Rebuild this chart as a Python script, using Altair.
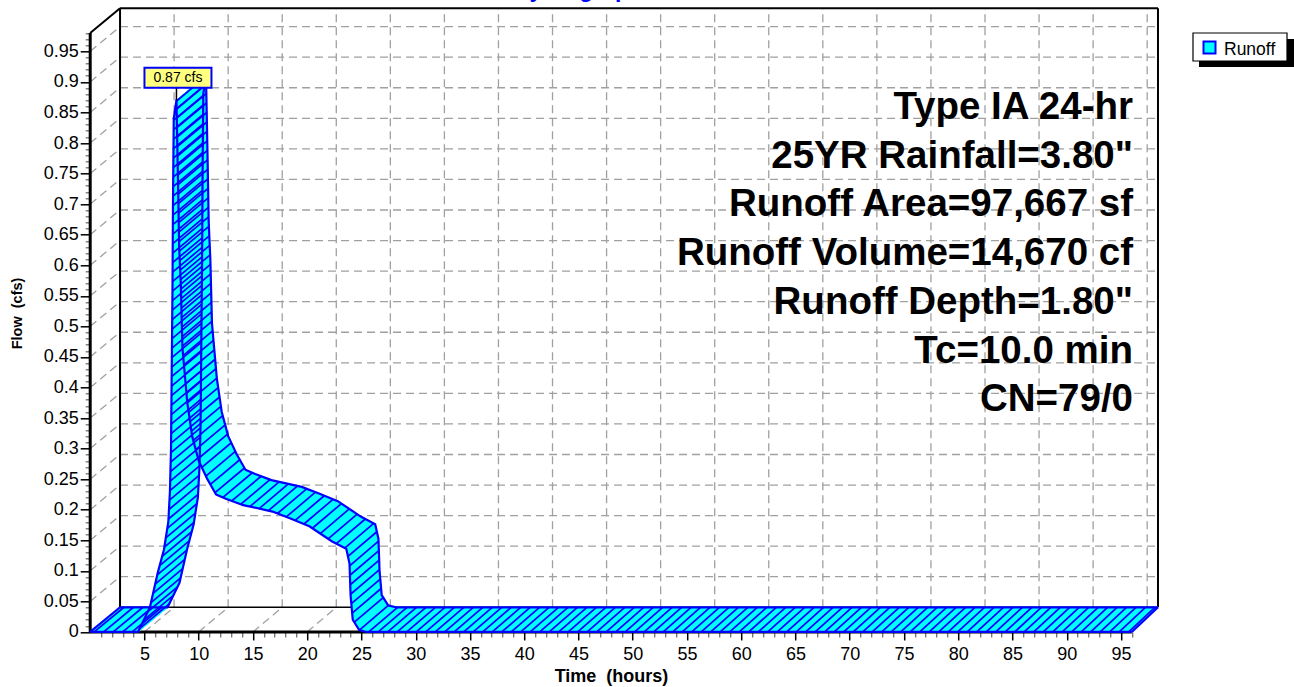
import altair as alt
import numpy as np
import pandas as pd

# ---------------------------------------------------------------------------
# Runoff hydrograph (front edge of the 3-D ribbon)
# ---------------------------------------------------------------------------
time_hr = [0.0, 4.4, 5.5, 6.2, 6.8, 7.2, 7.35, 7.45, 7.5, 7.58, 7.63, 7.7, 7.95,
           8.08, 8.2, 8.35, 8.5, 8.95, 9.4, 10.0, 10.8, 11.6, 12.5, 14.0, 16.8,
           18.4, 20.2, 22.3, 23.6, 23.9, 24.0, 24.2, 24.8, 25.5, 96.0]
flow_cfs = [0.0, 0.0, 0.04, 0.095, 0.135, 0.18, 0.23, 0.30, 0.40, 0.55, 0.70, 0.84, 0.87,
            0.75, 0.63, 0.57, 0.465, 0.375, 0.32, 0.28, 0.25, 0.225, 0.218, 0.208, 0.197,
            0.186, 0.173, 0.148, 0.136, 0.112, 0.06, 0.02, 0.003, 0.0, 0.0]

# Axis ticks
x_major = [5, 10, 15, 20, 25, 30, 35, 40, 45, 50, 55, 60, 65, 70, 75, 80, 85, 90, 95]
y_major = [0, 0.05, 0.1, 0.15, 0.2, 0.25, 0.3, 0.35, 0.4, 0.45, 0.5,
           0.55, 0.6, 0.65, 0.7, 0.75, 0.8, 0.85, 0.9, 0.95]
x_minor = [h for h in range(1, 97) if h % 5]
y_minor = [round(i / 100, 2) for i in range(1, 99) if i % 5]

chart_title = "Hydrograph"
x_title = "Time\u00a0 (hours)"
y_title = "Flow\u00a0 (cfs)"
series_name = "Runoff"
stats_lines = [
    "Type IA 24-hr",
    '25YR Rainfall=3.80"',
    "Runoff Area=97,667 sf",
    "Runoff Volume=14,670 cf",
    'Runoff Depth=1.80"',
    "Tc=10.0 min",
    "CN=79/0",
]

# ---------------------------------------------------------------------------
# Styling and the oblique 3-D box geometry
# ---------------------------------------------------------------------------
FONT = "Liberation Sans"
CYAN = "#00FFFF"
BLUE = "#0000FF"
GRID = "#A0A0A0"

PX_HR = 10.85          # pixels per hour on the front plane
PX_CFS = 611.2         # pixels per cfs on the front plane
T_END = 96.0           # front time axis length
Q_TOP = 0.98           # front flow axis length
DT, DQ, K = 2.75, 0.0404, 0.9965   # depth offset of the back plane (and its slight shrink)

XD = DT + K * T_END
YD = DQ + Q_TOP
W = XD * PX_HR
H = YD * PX_CFS
LEFT, TOP = 90.2, 8.3
TOTAL_W, TOTAL_H = 1294, 687


def to_back(t, q):
    return DT + K * np.asarray(t, dtype=float), DQ + np.asarray(q, dtype=float)


xs = alt.Scale(domain=[0, XD], nice=False, zero=False)
ys = alt.Scale(domain=[0, YD], nice=False, zero=False)


def seg_layer(rows, **mark):
    df = pd.DataFrame(rows, columns=["x", "y", "x2", "y2"])
    return alt.Chart(df).mark_rule(**mark).encode(
        x=alt.X("x:Q", scale=xs, axis=None),
        y=alt.Y("y:Q", scale=ys, axis=None),
        x2="x2:Q",
        y2="y2:Q",
    )


dash = dict(color=GRID, strokeWidth=1.3, strokeDash=[8, 5])

# Back wall grid, left wall and floor connectors
grid_v = seg_layer([(DT + K * t, DQ, DT + K * t, YD) for t in x_major], **dash)
grid_h = seg_layer([(DT, DQ + q, XD, DQ + q) for q in y_major[1:]], **dash)
grid_wall = seg_layer([(0, q, DT, DQ + q) for q in y_major[1:]], **dash)
grid_floor = seg_layer([(t, 0, DT + K * t, DQ) for t in x_major], **dash)

# Solid frame of the box
frame = seg_layer([
    (DT, DQ, DT, YD),
    (DT, YD, XD, YD),
    (XD, DQ, XD, YD),
    (0, Q_TOP, DT, YD),
], color="black", strokeWidth=2)
floor_back = seg_layer([(DT, DQ, XD, DQ)], color="black", strokeWidth=1.5)
front_axes = seg_layer([(0, 0, 0, Q_TOP), (0, 0, T_END, 0)], color="black", strokeWidth=3)

# ---------------------------------------------------------------------------
# Ribbon: one quad per hydrograph segment, front edge to back edge
# ---------------------------------------------------------------------------
t_f = np.array(time_hr, dtype=float)
q_f = np.array(flow_cfs, dtype=float)
t_b, q_b = to_back(t_f, q_f)

quad_rows = []
for i in range(len(t_f) - 1):
    pts = [(t_f[i], q_f[i]), (t_f[i + 1], q_f[i + 1]),
           (t_b[i + 1], q_b[i + 1]), (t_b[i], q_b[i]), (t_f[i], q_f[i])]
    for k, (tt, qq) in enumerate(pts):
        quad_rows.append({"quad": i, "k": k, "t": tt, "q": qq})
quads = pd.DataFrame(quad_rows)

ribbon_fill = alt.Chart(quads).mark_line(
    fill=CYAN, stroke=CYAN, strokeWidth=1, strokeJoin="round"
).encode(
    x=alt.X("t:Q", scale=xs, axis=None),
    y=alt.Y("q:Q", scale=ys, axis=None),
    detail="quad:N",
    order="k:Q",
)

# Hatching across the ribbon, evenly spaced along the front edge on screen
HATCH_STEP = 9.5
sx, sy = t_f * PX_HR, q_f * PX_CFS
cum = np.concatenate([[0.0], np.cumsum(np.hypot(np.diff(sx), np.diff(sy)))])
s = np.arange(4.0, cum[-1] - 2.0, HATCH_STEP)
h_t = np.interp(s, cum, t_f)
h_q = np.interp(s, cum, q_f)
h_t2, h_q2 = to_back(h_t, h_q)
hatch = seg_layer(list(zip(h_t, h_q, h_t2, h_q2)), color=BLUE, strokeWidth=1.7)

# Ribbon outline: front edge, back edge and the two end caps
edge_front = pd.DataFrame({"t": t_f, "q": q_f, "k": np.arange(len(t_f))})
edge_back = pd.DataFrame({"t": t_b, "q": q_b, "k": np.arange(len(t_f))})


def edge_layer(df):
    return alt.Chart(df).mark_line(color=BLUE, strokeWidth=2.2, strokeJoin="round").encode(
        x=alt.X("t:Q", scale=xs, axis=None),
        y=alt.Y("q:Q", scale=ys, axis=None),
        order="k:Q",
    )


caps = seg_layer([(t_f[0], q_f[0], t_b[0], q_b[0]),
                  (t_f[-1], q_f[-1], t_b[-1], q_b[-1])], color=BLUE, strokeWidth=2.2)

# ---------------------------------------------------------------------------
# Peak flow callout
# ---------------------------------------------------------------------------
i_pk = int(np.argmax(q_f))
t_pk, q_pk = float(t_f[i_pk]), float(q_f[i_pk])
peak_label = f"{q_pk:.2f} cfs"
box_half_w = 33.5 / PX_HR
pointer = seg_layer([(t_pk, q_pk, t_pk, q_pk + 12.5 / PX_CFS)], color="black", strokeWidth=1.5)
label_box = alt.Chart(pd.DataFrame([{
    "x": t_pk - box_half_w + 1.5 / PX_HR, "x2": t_pk + box_half_w + 1.5 / PX_HR,
    "y": q_pk + 12.5 / PX_CFS, "y2": q_pk + 32.5 / PX_CFS,
}])).mark_rect(fill="#FFFF80", stroke=BLUE, strokeWidth=2).encode(
    x=alt.X("x:Q", scale=xs, axis=None), x2="x2:Q",
    y=alt.Y("y:Q", scale=ys, axis=None), y2="y2:Q",
)
label_text = alt.Chart(pd.DataFrame([{
    "x": t_pk + 1.5 / PX_HR, "y": q_pk + 22.5 / PX_CFS, "label": peak_label,
}])).mark_text(font=FONT, fontSize=14, color="black", align="center", baseline="middle").encode(
    x=alt.X("x:Q", scale=xs, axis=None),
    y=alt.Y("y:Q", scale=ys, axis=None),
    text="label:N",
)

# ---------------------------------------------------------------------------
# Text block, title and legend (placed in pixels relative to the plot)
# ---------------------------------------------------------------------------
one = pd.DataFrame({"a": [0]})

stats = alt.Chart(one).mark_text(
    text="\n".join(stats_lines), lineBreak="\n", lineHeight=48.7,
    font=FONT, fontSize=38.5, fontWeight="bold", color="black",
    align="right", baseline="alphabetic",
).encode(x=alt.value(1133 - LEFT), y=alt.value(119 - TOP))

title = alt.Chart(one).mark_text(
    text=chart_title, font=FONT, fontSize=23, fontWeight="bold", color=BLUE,
    align="center", baseline="alphabetic",
).encode(x=alt.value(578 - LEFT), y=alt.value(-3 - TOP))

legend_shadow = alt.Chart(one).mark_rect(fill="black").encode(
    x=alt.value(1199 - LEFT), x2=alt.value(1294 - LEFT),
    y=alt.value(39 - TOP), y2=alt.value(67 - TOP))
legend_box = alt.Chart(one).mark_rect(fill="white", stroke="black", strokeWidth=1.2).encode(
    x=alt.value(1193 - LEFT), x2=alt.value(1287 - LEFT),
    y=alt.value(33 - TOP), y2=alt.value(61 - TOP))
legend_swatch = alt.Chart(one).mark_rect(fill=CYAN, stroke=BLUE, strokeWidth=2).encode(
    x=alt.value(1203.5 - LEFT), x2=alt.value(1215.5 - LEFT),
    y=alt.value(41.5 - TOP), y2=alt.value(53.5 - TOP))
legend_text = alt.Chart(one).mark_text(
    text=series_name, font=FONT, fontSize=17.5, color="black",
    align="left", baseline="alphabetic",
).encode(x=alt.value(1224 - LEFT), y=alt.value(54.5 - TOP))

# ---------------------------------------------------------------------------
# Axes (ticks and labels only; the axis lines are drawn on the front plane)
# ---------------------------------------------------------------------------
origin = pd.DataFrame({"t": [0.0], "q": [0.0]})
axis_major = alt.Chart(origin).mark_point(opacity=0).encode(
    x=alt.X("t:Q", scale=xs, axis=alt.Axis(
        orient="bottom", values=x_major, domain=False, grid=False,
        tickSize=8, tickColor="black", tickWidth=1.5,
        labelFont=FONT, labelFontSize=18, labelColor="black", labelPadding=6,
        labelFlush=False, labelOverlap=False,
        title=x_title, titleFont=FONT, titleFontSize=18, titleFontWeight="bold",
        titleColor="black", titleX=611 - LEFT, titleY=682 - (TOP + H),
        titleAlign="center", titleBaseline="alphabetic",
    )),
    y=alt.Y("q:Q", scale=ys, axis=alt.Axis(
        orient="left", values=y_major, format=".2~f", domain=False, grid=False,
        tickSize=10, tickColor="black", tickWidth=1.5,
        labelFont=FONT, labelFontSize=18, labelColor="black", labelPadding=2,
        labelFlush=False, labelOverlap=False,
        title=y_title, titleFont=FONT, titleFontSize=14.5, titleFontWeight="bold",
        titleColor="black", titleAngle=270, titleX=17.5 - LEFT, titleY=313 - TOP,
        titleAlign="center", titleBaseline="middle",
    )),
)
axis_minor = alt.Chart(origin).mark_point(opacity=0).encode(
    x=alt.X("t:Q", scale=xs, axis=alt.Axis(
        orient="bottom", values=x_minor, domain=False, grid=False, labels=False,
        tickSize=5, tickColor="#707070", tickWidth=1.3, title=None,
    )),
    y=alt.Y("q:Q", scale=ys, axis=alt.Axis(
        orient="left", values=y_minor, domain=False, grid=False, labels=False,
        tickSize=5, tickColor="#707070", tickWidth=1.3, title=None,
    )),
)

chart = alt.layer(
    grid_v, grid_h, grid_wall, grid_floor,
    frame, floor_back, front_axes,
    ribbon_fill, hatch, edge_layer(edge_front), edge_layer(edge_back), caps,
    pointer, label_box, label_text,
    stats, title, legend_shadow, legend_box, legend_swatch, legend_text,
    axis_major, axis_minor,
).resolve_axis(
    x="independent", y="independent"
).properties(
    width=W,
    height=H,
    padding={"left": LEFT, "top": TOP,
             "right": TOTAL_W - LEFT - W, "bottom": TOTAL_H - TOP - H},
    autosize=alt.AutoSizeParams(type="none"),
    background="white",
).configure_view(stroke=None)

chart.save("out.html", embed_options={"renderer": "svg", "actions": False})
